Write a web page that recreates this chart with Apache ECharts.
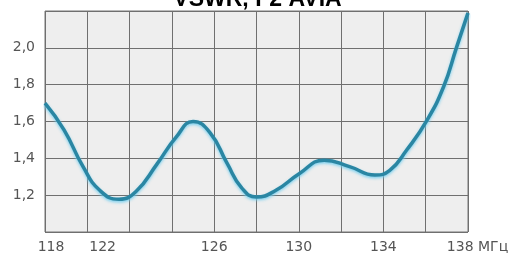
<!DOCTYPE html>
<html>
<head>
<meta charset="utf-8">
<script src="https://cdn.jsdelivr.net/npm/echarts@6/dist/echarts.min.js"></script>
<style>html,body{margin:0;padding:0;background:#fff}#c{width:515px;height:256px}</style>
</head>
<body>
<div id="c"></div>
<script>
const titleText = 'VSWR, F2 AVIA';
const unit = 'МГц';
const freq = [118.0, 118.9, 119.8, 120.6, 121.5, 122.3, 123.3, 124.2, 125.0, 125.8, 126.6, 127.3, 128.0, 128.9, 130.0, 131.2, 132.4, 133.6, 134.3, 135.1, 136.05, 136.85, 137.45, 138.0];
const vswr = [1.70, 1.555, 1.355, 1.225, 1.178, 1.22, 1.37, 1.515, 1.60, 1.54, 1.375, 1.24, 1.19, 1.225, 1.315, 1.39, 1.355, 1.31, 1.335, 1.445, 1.605, 1.79, 2.0, 2.19];
const xLabels = [118, 122, 126, 130, 134, 138];
const yLabels = [1.2, 1.4, 1.6, 1.8, 2.0];

const chart = echarts.init(document.getElementById('c'), null, {renderer: 'canvas'});
const font = 'DejaVu Sans';
chart.setOption({
  animation: false,
  backgroundColor: '#ffffff',
  title: {
    text: titleText, left: 'center', top: -17,
    textStyle: {fontFamily: 'Liberation Sans', fontWeight: 'bold', fontSize: 23, color: '#000'}
  },
  grid: {left: 45, right: 47, top: 11, bottom: 24, show: true, backgroundColor: '#eeeeee', borderColor: '#777', borderWidth: 1},
  xAxis: {
    type: 'value', min: 118, max: 138, interval: 2,
    axisLine: {show: false}, axisTick: {show: false},
    splitLine: {show: true, lineStyle: {color: '#6f6f6f', width: 1}},
    axisLabel: {
      showMinLabel: true, showMaxLabel: true, margin: 8,
      fontFamily: font, fontSize: 14, color: '#555',
      formatter: function (v) {
        const r = Math.round(v);
        if (xLabels.indexOf(r) < 0) return '';
        if (r === 138) return '{e|' + r + ' ' + unit + '}';
        if (r === 122) return '{m|' + r + '}';
        if (r === 118) return '{s|' + r + '}';
        return String(r);
      },
      rich: {
        e: {fontFamily: font, fontSize: 14, color: '#555', padding: [0, 0, 0, 19]},
        m: {fontFamily: font, fontSize: 14, color: '#555', padding: [0, 54, 0, 0]},
        s: {fontFamily: font, fontSize: 14, color: '#555', padding: [0, 0, 0, 12]}
      }
    }
  },
  yAxis: {
    type: 'value', min: 1.0, max: 2.2, interval: 0.2,
    axisLine: {show: false}, axisTick: {show: false},
    splitLine: {show: true, lineStyle: {color: '#6f6f6f', width: 1}},
    axisLabel: {
      margin: 10, fontFamily: font, fontSize: 14, color: '#555',
      formatter: function (v) {
        const r = Math.round(v * 10) / 10;
        if (yLabels.indexOf(r) < 0) return '';
        return r.toFixed(1).replace('.', ',');
      }
    }
  },
  series: [{
    type: 'line', smooth: true, symbol: 'none', clip: true,
    data: freq.map((f, i) => [f, vswr[i]]),
    lineStyle: {color: '#2a86a3', width: 3.5, shadowColor: 'rgba(110,205,240,0.9)', shadowBlur: 3, shadowOffsetY: 1.5}
  }]
});
</script>
</body>
</html>
